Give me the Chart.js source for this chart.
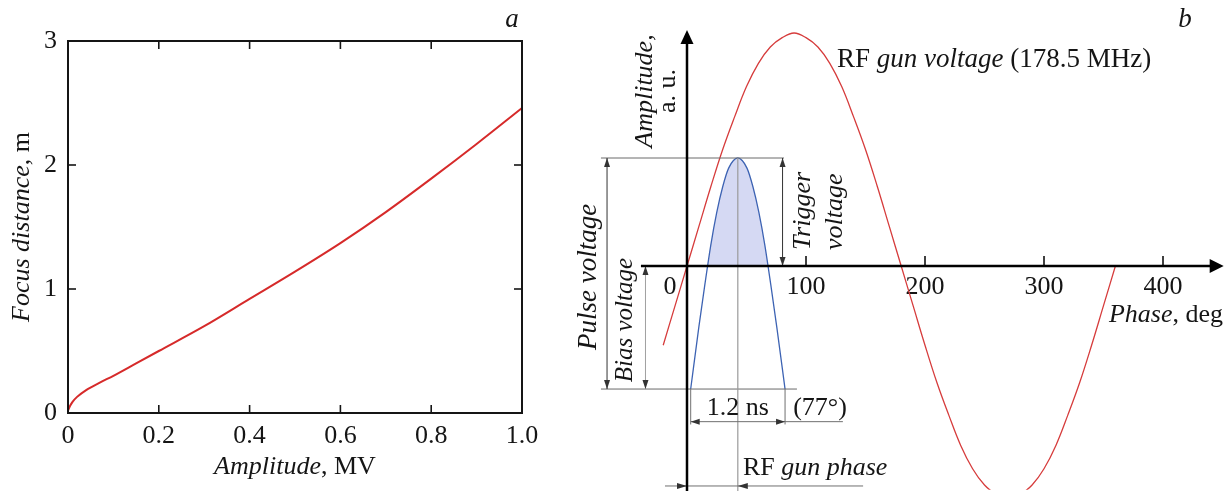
<!DOCTYPE html>
<html>
<head>
<meta charset="utf-8">
<script src="https://cdn.jsdelivr.net/npm/chart.js@4.4.1/dist/chart.umd.min.js"></script>
<style>
  html, body { margin: 0; padding: 0; background: #fff; }
  #wrap { position: relative; width: 1228px; height: 491px; overflow: hidden; }
  canvas { position: absolute; top: 0; }
  #ca { left: 0; }
  #cb { left: 560px; }
</style>
</head>
<body>
<div id="wrap">
  <canvas id="ca" width="560" height="491"></canvas>
  <canvas id="cb" width="668" height="491"></canvas>
</div>
<script>
/* figure a: focus distance vs amplitude
   figure b: RF gun voltage and trigger pulse (schematic) */

// --- panel a data ---
const AMP_MV  = [0, 0.005, 0.01, 0.02, 0.04, 0.07, 0.1, 0.15, 0.2, 0.3, 0.4, 0.5, 0.6, 0.7, 0.8, 0.9, 1.0];
const FOCUS_M = [0.02, 0.06, 0.09, 0.13, 0.185, 0.245, 0.30, 0.40, 0.50, 0.70, 0.92, 1.14, 1.37, 1.62, 1.89, 2.17, 2.46];
const A_XTICKS = [0, 0.2, 0.4, 0.6, 0.8, 1.0];
const A_YTICKS = [0, 1, 2, 3];

// --- panel b data (phase in deg, amplitude in a.u.) ---
const RF_PHASE = [-20,-10,0,10,20,30,40,50,60,70,80,90,100,110,120,130,140,150,160,170,180,
                  190,200,210,220,230,240,250,260,270,280,290,300,310,320,330,340,350,360];
const RF_AMP   = [-0.34,-0.17,0,0.17,0.34,0.5,0.64,0.77,0.87,0.94,0.98,1,0.98,0.94,0.87,0.77,0.64,0.5,0.34,0.17,0,
                  -0.17,-0.34,-0.5,-0.64,-0.77,-0.87,-0.94,-0.98,-1,-0.98,-0.94,-0.87,-0.77,-0.64,-0.5,-0.34,-0.17,0];
const PULSE_PHASE = [3.1, 10, 15, 20, 25, 30, 35, 42.7, 50.4, 55.4, 60.4, 65.4, 70.4, 75.4, 82.4];
const PULSE_AMP   = [-0.528, -0.26, -0.08, 0.09, 0.23, 0.34, 0.42, 0.4635, 0.42, 0.34, 0.23, 0.09, -0.08, -0.26, -0.528];
const B_XTICKS = [100, 200, 300, 400];

// annotation levels / phases read from the schematic
const PULSE_TOP = 0.4635, PULSE_BASE = -0.528, PULSE_MID = 42.7;
const PULSE_START = 3.1, PULSE_END = 82.4;
const TOP_LINE = [-72.3, 81.5], BASE_LINE = [-72.3, 92.4];
const PULSE_ARROW = -67.2, BIAS_ARROW = -34.9, TRIG_ARROW = 80.3;
const NS_LEVEL = -0.668, NS_LINE_END = 131, EXT_END = -0.68;
const GUN_LEVEL = -0.944, GUN_LINE = [-18.5, 148];
const XAXIS_RANGE = [-38.7, 451], YAXIS_TIP = 1.013;

const FONT = "'Liberation Serif', 'Times New Roman', serif";
const INK = '#151515';

function setFont(ctx, size, it){ ctx.font = (it ? 'italic ' : '') + size + 'px ' + FONT; }

// mixed italic / upright text
function drawRich(ctx, parts, x, y, size, align, rot){
  ctx.save();
  ctx.translate(x, y);
  if(rot) ctx.rotate(-Math.PI/2);
  ctx.textBaseline = 'middle';
  ctx.textAlign = 'left';
  ctx.fillStyle = INK;
  let w = 0;
  parts.forEach(p => { setFont(ctx, size, p.i); w += ctx.measureText(p.t).width; });
  let cx = align === 'center' ? -w/2 : (align === 'right' ? -w : 0);
  parts.forEach(p => { setFont(ctx, size, p.i); ctx.fillText(p.t, cx, 0); cx += ctx.measureText(p.t).width; });
  ctx.restore();
}

function arrowHead(ctx, x, y, dir, len, hw){
  ctx.beginPath();
  ctx.moveTo(x, y);
  if(dir === 'up'){ ctx.lineTo(x-hw, y+len); ctx.lineTo(x+hw, y+len); }
  if(dir === 'down'){ ctx.lineTo(x-hw, y-len); ctx.lineTo(x+hw, y-len); }
  if(dir === 'left'){ ctx.lineTo(x+len, y-hw); ctx.lineTo(x+len, y+hw); }
  if(dir === 'right'){ ctx.lineTo(x-len, y-hw); ctx.lineTo(x-len, y+hw); }
  ctx.closePath();
  ctx.fill();
}

function line(ctx, x1, y1, x2, y2){ ctx.beginPath(); ctx.moveTo(x1, y1); ctx.lineTo(x2, y2); ctx.stroke(); }

// ---------------- panel a ----------------
const frameA = {
  id: 'frameA',
  afterDraw(chart){
    const { ctx, chartArea: a, scales: { x, y } } = chart;
    ctx.save();
    ctx.strokeStyle = INK;
    ctx.lineWidth = 2;
    ctx.strokeRect(a.left, a.top, a.right - a.left, a.bottom - a.top);
    ctx.lineWidth = 1.6;
    A_XTICKS.slice(1, -1).forEach(v => {
      const px = x.getPixelForValue(v);
      line(ctx, px, a.bottom, px, a.bottom - 8);
      line(ctx, px, a.top, px, a.top + 8);
    });
    A_YTICKS.slice(1, -1).forEach(v => {
      const py = y.getPixelForValue(v);
      line(ctx, a.left, py, a.left + 8, py);
      line(ctx, a.right, py, a.right - 8, py);
    });
    drawRich(ctx, [{t:'Amplitude', i:true}, {t:', MV'}], (a.left + a.right)/2, 467, 26, 'center');
    drawRich(ctx, [{t:'Focus distance', i:true}, {t:', m'}], 22, (a.top + a.bottom)/2, 26, 'center', true);
    drawRich(ctx, [{t:'a', i:true}], 512, 20, 27, 'center');
    ctx.restore();
  }
};

new Chart(document.getElementById('ca'), {
  type: 'line',
  data: {
    datasets: [{
      data: AMP_MV.map((v, i) => ({ x: v, y: FOCUS_M[i] })),
      borderColor: '#d62a2a', borderWidth: 2, pointRadius: 0,
      cubicInterpolationMode: 'monotone', fill: false
    }]
  },
  options: {
    responsive: false, animation: false, devicePixelRatio: 1,
    layout: { padding: { left: 0, top: 41, right: 38, bottom: 0 } },
    plugins: { legend: { display: false }, tooltip: { enabled: false } },
    scales: {
      x: {
        type: 'linear', min: 0, max: 1,
        grid: { display: false, drawTicks: false }, border: { display: false },
        afterBuildTicks: s => { s.ticks = A_XTICKS.map(v => ({ value: v })); },
        afterFit: s => { s.height = 78; },
        ticks: { color: INK, padding: 8, font: { family: FONT, size: 26 },
                 callback: v => v === 0 ? '0' : v.toFixed(1) }
      },
      y: {
        type: 'linear', min: 0, max: 3,
        grid: { display: false, drawTicks: false }, border: { display: false },
        afterBuildTicks: s => { s.ticks = A_YTICKS.map(v => ({ value: v })); },
        afterFit: s => { s.width = 68; },
        ticks: { color: INK, padding: 11, font: { family: FONT, size: 26 } }
      }
    }
  },
  plugins: [frameA]
});

// ---------------- panel b ----------------
const schemeB = {
  id: 'schemeB',
  afterDatasetsDraw(chart){
    const { ctx, scales: { x, y } } = chart;
    const X = v => x.getPixelForValue(v), Y = v => y.getPixelForValue(v);
    const bottom = chart.height;
    ctx.save();

    // guide lines
    ctx.lineWidth = 1;
    ctx.strokeStyle = '#6a6a6a';
    line(ctx, X(TOP_LINE[0]), Y(PULSE_TOP), X(TOP_LINE[1]), Y(PULSE_TOP));
    line(ctx, X(BASE_LINE[0]), Y(PULSE_BASE), X(BASE_LINE[1]), Y(PULSE_BASE));
    ctx.strokeStyle = '#9a9a9a';
    ctx.lineWidth = 1.2;
    line(ctx, X(PULSE_MID), Y(PULSE_TOP), X(PULSE_MID), bottom);

    // pulse voltage arrow
    ctx.strokeStyle = '#333'; ctx.fillStyle = '#333'; ctx.lineWidth = 1;
    line(ctx, X(PULSE_ARROW), Y(PULSE_TOP), X(PULSE_ARROW), Y(PULSE_BASE));
    arrowHead(ctx, X(PULSE_ARROW), Y(PULSE_TOP), 'up', 9, 3);
    arrowHead(ctx, X(PULSE_ARROW), Y(PULSE_BASE), 'down', 9, 3);
    // trigger voltage arrow
    line(ctx, X(TRIG_ARROW), Y(PULSE_TOP), X(TRIG_ARROW), Y(0));
    arrowHead(ctx, X(TRIG_ARROW), Y(PULSE_TOP), 'up', 9, 3);
    arrowHead(ctx, X(TRIG_ARROW), Y(0), 'down', 9, 3);
    // bias voltage arrow
    ctx.strokeStyle = '#a0a0a0';
    line(ctx, X(BIAS_ARROW), Y(0), X(BIAS_ARROW), Y(PULSE_BASE));
    ctx.fillStyle = '#333';
    arrowHead(ctx, X(BIAS_ARROW), Y(0), 'up', 9, 3);
    arrowHead(ctx, X(BIAS_ARROW), Y(PULSE_BASE), 'down', 9, 3);

    // 1.2 ns dimension
    ctx.strokeStyle = '#707070';
    line(ctx, X(PULSE_START), Y(PULSE_BASE), X(PULSE_START), Y(EXT_END));
    line(ctx, X(PULSE_END), Y(PULSE_BASE), X(PULSE_END), Y(EXT_END));
    line(ctx, X(PULSE_START), Y(NS_LEVEL), X(NS_LINE_END), Y(NS_LEVEL));
    arrowHead(ctx, X(PULSE_START), Y(NS_LEVEL), 'left', 9, 3);
    arrowHead(ctx, X(PULSE_END), Y(NS_LEVEL), 'right', 9, 3);

    // RF gun phase dimension
    line(ctx, X(GUN_LINE[0]), Y(GUN_LEVEL), X(GUN_LINE[1]), Y(GUN_LEVEL));
    arrowHead(ctx, X(0), Y(GUN_LEVEL), 'right', 10, 3);
    arrowHead(ctx, X(PULSE_MID), Y(GUN_LEVEL), 'left', 10, 3);

    // axes
    ctx.strokeStyle = '#000'; ctx.fillStyle = '#000';
    ctx.lineWidth = 2.5;
    line(ctx, X(XAXIS_RANGE[0]), Y(0), X(XAXIS_RANGE[1]) - 10, Y(0));
    arrowHead(ctx, X(XAXIS_RANGE[1]), Y(0), 'right', 14, 7);
    line(ctx, X(0), bottom, X(0), Y(YAXIS_TIP) + 10);
    arrowHead(ctx, X(0), Y(YAXIS_TIP), 'up', 14, 6.5);
    ctx.lineWidth = 1.5;
    B_XTICKS.forEach(v => line(ctx, X(v), Y(0), X(v), Y(0) - 10));

    // texts
    drawRich(ctx, [{t:'0'}], X(-14.3), Y(-0.09), 26, 'center');
    drawRich(ctx, [{t:'RF '}, {t:'gun voltage', i:true}, {t:' (178.5 MHz)'}], X(126), Y(0.884), 27, 'left');
    drawRich(ctx, [{t:'Phase', i:true}, {t:', deg'}], X(354.6), Y(-0.21), 26, 'left');
    drawRich(ctx, [{t:'Amplitude,', i:true}], X(-35.3), Y(0.751), 26, 'center', true);
    drawRich(ctx, [{t:'a. u.'}], X(-16), Y(0.751), 26, 'center', true);
    drawRich(ctx, [{t:'Pulse voltage', i:true}], X(-82.4), Y(-0.047), 27, 'center', true);
    drawRich(ctx, [{t:'Bias voltage', i:true}], X(-52.1), Y(-0.232), 25, 'center', true);
    drawRich(ctx, [{t:'Trigger', i:true}], X(97.5), Y(0.069), 26, 'left', true);
    drawRich(ctx, [{t:'voltage', i:true}], X(124.4), Y(0.069), 26, 'left', true);
    drawRich(ctx, [{t:'1.2 ns'}], X(PULSE_MID), Y(-0.609), 26, 'center');
    drawRich(ctx, [{t:'(77°)'}], X(111.8), Y(-0.609), 26, 'center');
    drawRich(ctx, [{t:'RF '}, {t:'gun phase', i:true}], X(47), Y(-0.867), 26, 'left');
    drawRich(ctx, [{t:'b', i:true}], X(418.5), Y(1.056), 27, 'center');
    ctx.restore();
  }
};

new Chart(document.getElementById('cb'), {
  type: 'line',
  data: {
    datasets: [
      {
        data: PULSE_PHASE.map((v, i) => ({ x: v, y: PULSE_AMP[i] })),
        borderColor: '#3d63b3', borderWidth: 1.3, pointRadius: 0,
        cubicInterpolationMode: 'monotone',
        fill: { target: { value: 0 }, above: 'rgba(190,196,236,0.65)', below: 'rgba(0,0,0,0)' }
      },
      {
        data: RF_PHASE.map((v, i) => ({ x: v, y: RF_AMP[i] })),
        borderColor: '#d63c3c', borderWidth: 1.3, pointRadius: 0,
        tension: 0.4, fill: false
      }
    ]
  },
  options: {
    responsive: false, animation: false, devicePixelRatio: 1,
    layout: { padding: { left: 55.6, right: 17.4, top: 9.7, bottom: 1.3 } },
    plugins: { legend: { display: false }, tooltip: { enabled: false } },
    scales: {
      x: {
        type: 'linear', min: -60, max: 440, position: { y: 0 },
        grid: { display: false, drawTicks: false }, border: { display: false },
        afterBuildTicks: s => { s.ticks = B_XTICKS.map(v => ({ value: v })); },
        ticks: { color: INK, padding: 6, maxRotation: 0, font: { family: FONT, size: 26 } }
      },
      y: { type: 'linear', min: -0.96, max: 1.1, display: false }
    }
  },
  plugins: [schemeB]
});
</script>
</body>
</html>
